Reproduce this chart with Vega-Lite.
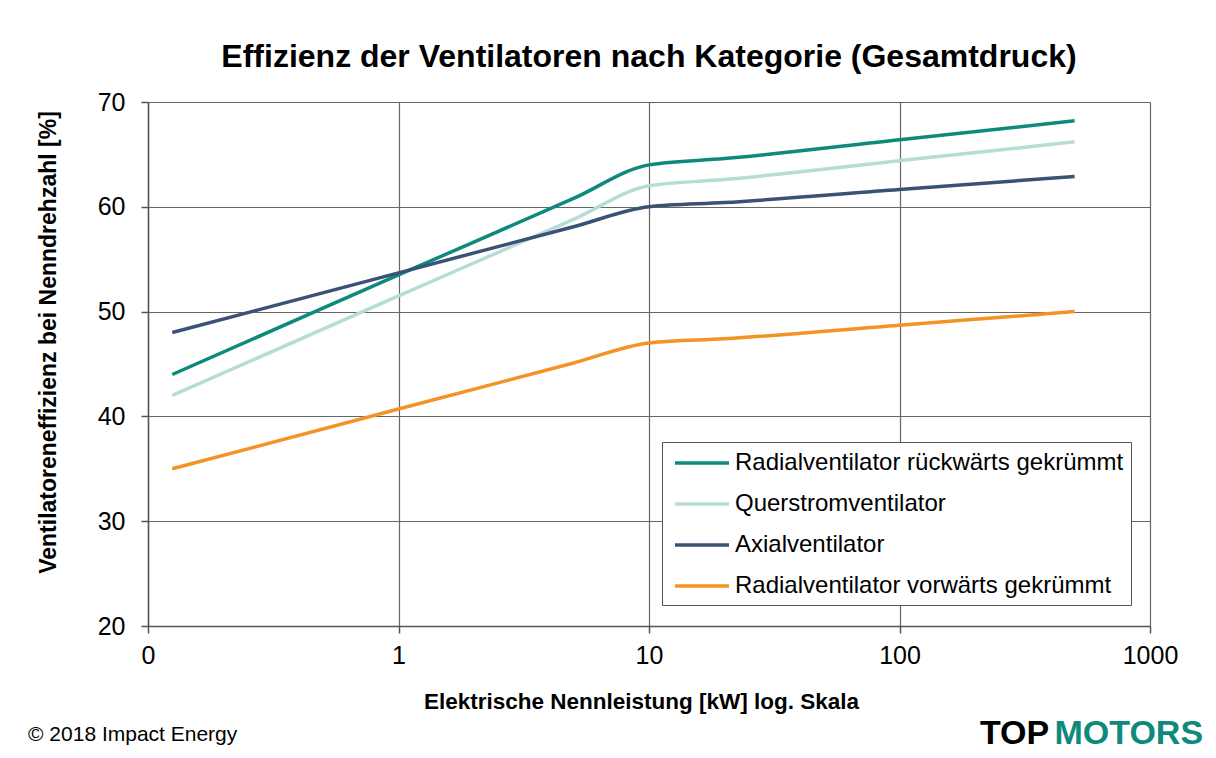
{
  "$schema": "https://vega.github.io/schema/vega-lite/v6.json",
  "width": 1002,
  "height": 524,
  "autosize": {"type": "none"},
  "padding": {"left": 148, "top": 102, "right": 66, "bottom": 132},
  "background": "white",
  "config": {
    "font": "Liberation Sans",
    "view": {"stroke": null},
    "axis": {"labelFont": "Liberation Sans", "titleFont": "Liberation Sans"}
  },
  "title": {
    "text": "Effizienz der Ventilatoren nach Kategorie (Gesamtdruck)",
    "fontSize": 32,
    "fontWeight": "bold",
    "font": "Liberation Sans",
    "color": "#000000",
    "anchor": "middle",
    "offset": 16
  },
  "data": {
    "values": [
      {"kw": 0.125, "eff": 44, "typ": "Radialventilator rückwärts gekrümmt"},
      {"kw": 1, "eff": 53.5, "typ": "Radialventilator rückwärts gekrümmt"},
      {"kw": 5, "eff": 60.8, "typ": "Radialventilator rückwärts gekrümmt"},
      {"kw": 10, "eff": 64, "typ": "Radialventilator rückwärts gekrümmt"},
      {"kw": 20, "eff": 64.6, "typ": "Radialventilator rückwärts gekrümmt"},
      {"kw": 100, "eff": 66.4, "typ": "Radialventilator rückwärts gekrümmt"},
      {"kw": 500, "eff": 68.2, "typ": "Radialventilator rückwärts gekrümmt"},
      {"kw": 0.125, "eff": 42, "typ": "Querstromventilator"},
      {"kw": 1, "eff": 51.5, "typ": "Querstromventilator"},
      {"kw": 5, "eff": 58.8, "typ": "Querstromventilator"},
      {"kw": 10, "eff": 62, "typ": "Querstromventilator"},
      {"kw": 20, "eff": 62.6, "typ": "Querstromventilator"},
      {"kw": 100, "eff": 64.4, "typ": "Querstromventilator"},
      {"kw": 500, "eff": 66.2, "typ": "Querstromventilator"},
      {"kw": 0.125, "eff": 48, "typ": "Axialventilator"},
      {"kw": 1, "eff": 53.7, "typ": "Axialventilator"},
      {"kw": 5, "eff": 58.1, "typ": "Axialventilator"},
      {"kw": 10, "eff": 60, "typ": "Axialventilator"},
      {"kw": 20, "eff": 60.4, "typ": "Axialventilator"},
      {"kw": 100, "eff": 61.65, "typ": "Axialventilator"},
      {"kw": 500, "eff": 62.9, "typ": "Axialventilator"},
      {"kw": 0.125, "eff": 35, "typ": "Radialventilator vorwärts gekrümmt"},
      {"kw": 1, "eff": 40.7, "typ": "Radialventilator vorwärts gekrümmt"},
      {"kw": 5, "eff": 45.1, "typ": "Radialventilator vorwärts gekrümmt"},
      {"kw": 10, "eff": 47, "typ": "Radialventilator vorwärts gekrümmt"},
      {"kw": 20, "eff": 47.4, "typ": "Radialventilator vorwärts gekrümmt"},
      {"kw": 100, "eff": 48.7, "typ": "Radialventilator vorwärts gekrümmt"},
      {"kw": 500, "eff": 50, "typ": "Radialventilator vorwärts gekrümmt"}
    ]
  },
  "layer": [
    {
      "mark": {"type": "line", "interpolate": "monotone", "strokeWidth": 3.5},
      "encoding": {
        "x": {
          "field": "kw", "type": "quantitative",
          "scale": {"type": "log", "domain": [0.1, 1000], "nice": false},
          "axis": {
            "values": [0.1, 1, 10, 100, 1000],
            "labelExpr": "datum.value < 0.5 ? '0' : datum.label",
            "format": "d",
            "labelFlush": false,
            "title": "Elektrische Nennleistung [kW] log. Skala",
            "titleFontSize": 22.5, "titleFontWeight": "bold", "titleColor": "#000000",
            "titlePadding": 22, "titleX": 493,
            "labelFontSize": 25, "labelColor": "#000000", "labelPadding": 10,
            "tickSize": 7, "tickColor": "#555555", "tickWidth": 1.5,
            "domainColor": "#555555", "domainWidth": 1.5,
            "grid": true, "gridColor": "#666666", "gridWidth": 1.2, "gridOpacity": 1
          }
        },
        "y": {
          "field": "eff", "type": "quantitative",
          "scale": {"domain": [20, 70], "nice": false, "zero": false},
          "axis": {
            "values": [20, 30, 40, 50, 60, 70],
            "labelFlush": false,
            "title": "Ventilatoreneffizienz bei Nenndrehzahl [%]",
            "titleFontSize": 23, "titleFontWeight": "bold", "titleColor": "#000000",
            "titlePadding": 37, "titleY": 240,
            "labelFontSize": 25, "labelColor": "#000000", "labelPadding": 16,
            "tickSize": 7, "tickColor": "#555555", "tickWidth": 1.5,
            "domainColor": "#555555", "domainWidth": 1.5,
            "grid": true, "gridColor": "#666666", "gridWidth": 1.2, "gridOpacity": 1
          }
        },
        "color": {
          "field": "typ", "type": "nominal",
          "scale": {
            "domain": ["Radialventilator rückwärts gekrümmt", "Querstromventilator", "Axialventilator", "Radialventilator vorwärts gekrümmt"],
            "range": ["#0E8A7D", "#B6DDD5", "#3A5276", "#F39325"]
          },
          "legend": {
            "title": null,
            "orient": "none",
            "legendX": 514,
            "legendY": 340,
            "fillColor": "white",
            "strokeColor": "#555555",
            "padding": 7,
            "symbolType": "M-2.25,0H2.25",
            "symbolSize": 576,
            "symbolStrokeWidth": 3.5,
            "symbolOffset": 19,
            "labelFontSize": 24,
            "labelColor": "#000000",
            "labelOffset": 19,
            "rowPadding": 15,
            "labelLimit": 600
          }
        }
      }
    },
    {
      "data": {"values": [{}]},
      "mark": {"type": "text", "fontSize": 21, "align": "left", "baseline": "middle", "color": "#000000"},
      "encoding": {
        "x": {"datum": 0.0332},
        "y": {"datum": 9.6},
        "text": {"value": "© 2018 Impact Energy"}
      }
    },
    {
      "data": {"values": [{}]},
      "mark": {"type": "text", "fontSize": 34, "fontWeight": "bold", "align": "left", "baseline": "middle", "color": "#000000", "font": "Liberation Sans"},
      "encoding": {
        "x": {"datum": 209.5},
        "y": {"datum": 9.7},
        "text": {"value": "TOP"}
      }
    },
    {
      "data": {"values": [{}]},
      "mark": {"type": "text", "fontSize": 34, "fontWeight": "bold", "align": "right", "baseline": "middle", "color": "#0E8A7D", "font": "Liberation Sans"},
      "encoding": {
        "x": {"datum": 1629},
        "y": {"datum": 9.7},
        "text": {"value": "MOTORS"}
      }
    }
  ]
}
